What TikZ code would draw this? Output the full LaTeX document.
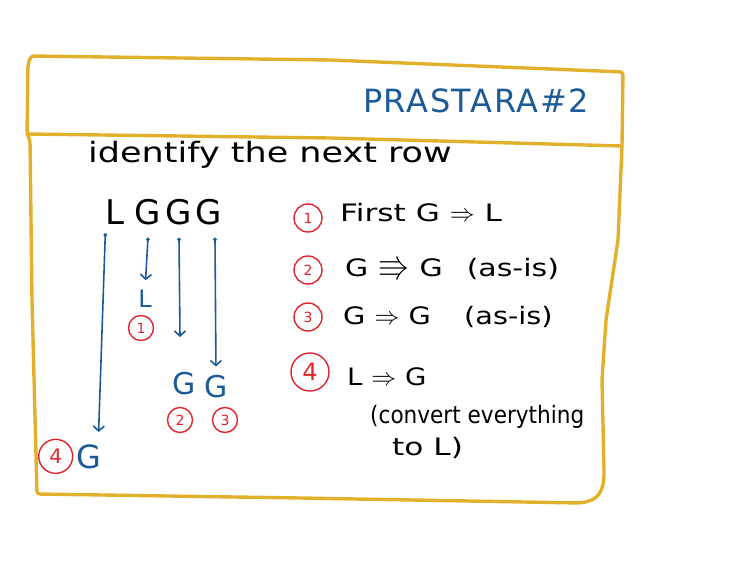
\documentclass[tikz,border=0pt]{standalone}
\usepackage{amsmath,amssymb}
\usepackage{fontspec}
\setmainfont{DejaVu Sans}
\usetikzlibrary{arrows.meta,positioning,calc}

\definecolor{framegold}{HTML}{E2B12C}
\definecolor{penblue}{HTML}{1C5A98}
\definecolor{penred}{HTML}{E2242C}
\newcommand{\fs}[1]{\fontsize{#1}{#1}\selectfont}
\newcommand{\wide}[1]{\addfontfeature{FakeStretch=#1}}
\newcommand{\bigto}[1]{{\fs{32}$#1$}}

\begin{document}
\begin{tikzpicture}[x=1pt,y=-1pt,
    frame/.style={draw=framegold,line width=3.4pt,line cap=round,line join=round,rounded corners=3pt},
    ink/.style={inner sep=0pt,text=black},
    blueink/.style={inner sep=0pt,text=penblue},
    numring/.style={circle,draw=penred,line width=1.4pt,text=penred,inner sep=0pt,minimum size=#1,font=\fs{14}},
    numring/.default=25pt,
    pointer/.style={draw=penblue,line width=1.6pt,{Circle[length=3.5pt]}-{Straight Barb[length=5pt,width=11pt]}}]
    \useasboundingbox (0,0) rectangle (745,580);
    % card outline
    \draw[frame] (31,56) -- (330,60) -- (623,72) -- (622,146) -- (618,240) -- (606,320) -- (602,380) -- (604,470) .. controls (604,492) and (598,500) .. (580,503) -- (300,498) -- (37,494) -- (32,300) -- (30,140) -- (27,134) -- (28,64) -- cycle;
    \draw[frame] (27,134) -- (330,138) -- (622,146);
    \node[blueink,font={\fs{32}\addfontfeature{LetterSpace=5}}] (title) at (476,101) {PRASTARA\#2};
    \node[ink,font={\fs{28}\wide{1.25}},anchor=base west] (task) at (88,163) {identify the next row};
    % the row
    \node[ink,font=\fs{34},anchor=base] (topL) at (115,225) {L};
    \node[ink,font=\fs{34},anchor=base] (topGa) at (148,225) {G};
    \node[ink,font=\fs{34},anchor=base] (topGb) at (179,225) {G};
    \node[ink,font=\fs{34},anchor=base] (topGc) at (209,225) {G};
    % the next row
    \node[blueink,font=\fs{24},anchor=base] (newL) at (145,308) {L};
    \node[numring] (ringA) at (141,328) {1};
    \node[blueink,font=\fs{30},anchor=base] (gTwo) at (184,394) {G};
    \node[blueink,font=\fs{30},anchor=base] (gThree) at (216,397) {G};
    \node[numring] (ringB) at (180,420) {2};
    \node[numring] (ringC) at (225,420) {3};
    \node[blueink,font=\fs{32},anchor=base] (gFour) at (89,468) {G};
    \node[numring=34pt,font=\fs{20},left=3pt of gFour] (ringD) {4};
    \coordinate (stopB) at (180,337);
    \draw[pointer] ([yshift=-8pt]topL.south west) -- ([xshift=-3pt,yshift=12pt]gFour.north east);
    \draw[pointer,shorten >=10pt] ([yshift=-12pt]topGa.south) -- (newL.north);
    \draw[pointer] ([yshift=-12pt]topGb.south) -- (stopB);
    \draw[pointer,shorten >=8pt] ([xshift=6pt,yshift=-12pt]topGc.south) -- (gThree.north);
    % the rules
    \node[numring=28pt] (ruleA) at (308,218) {1};
    \node[numring=28pt] (ruleB) at (308,270) {2};
    \node[numring=28pt] (ruleC) at (308,317) {3};
    \node[numring=38pt,font=\fs{24}] (ruleD) at (310,372) {4};
    \node[ink,font={\fs{24}\wide{1.3}},anchor=base west] (textA) at (340,222) {First G \bigto{\Rightarrow} L};
    \node[ink,font={\fs{24}\wide{1.25}},anchor=base west] (textB) at (345,277) {G \bigto{\Rrightarrow} G\quad(as-is)};
    \node[ink,font={\fs{24}\wide{1.2}},anchor=base west] (textC) at (343,324) {G \bigto{\Rightarrow} G\quad\ (as-is)};
    \node[ink,font={\fs{24}\wide{1.15}},anchor=base west] (textD) at (347,385) {L \bigto{\Rightarrow} G};
    \node[ink,font={\fs{24}\wide{0.9}},anchor=base west] (noteA) at (370,423) {(convert everything};
    \node[ink,font={\fs{24}\wide{1.3}},anchor=base west] (noteB) at (392,455) {to L)};
\end{tikzpicture}
\end{document}
